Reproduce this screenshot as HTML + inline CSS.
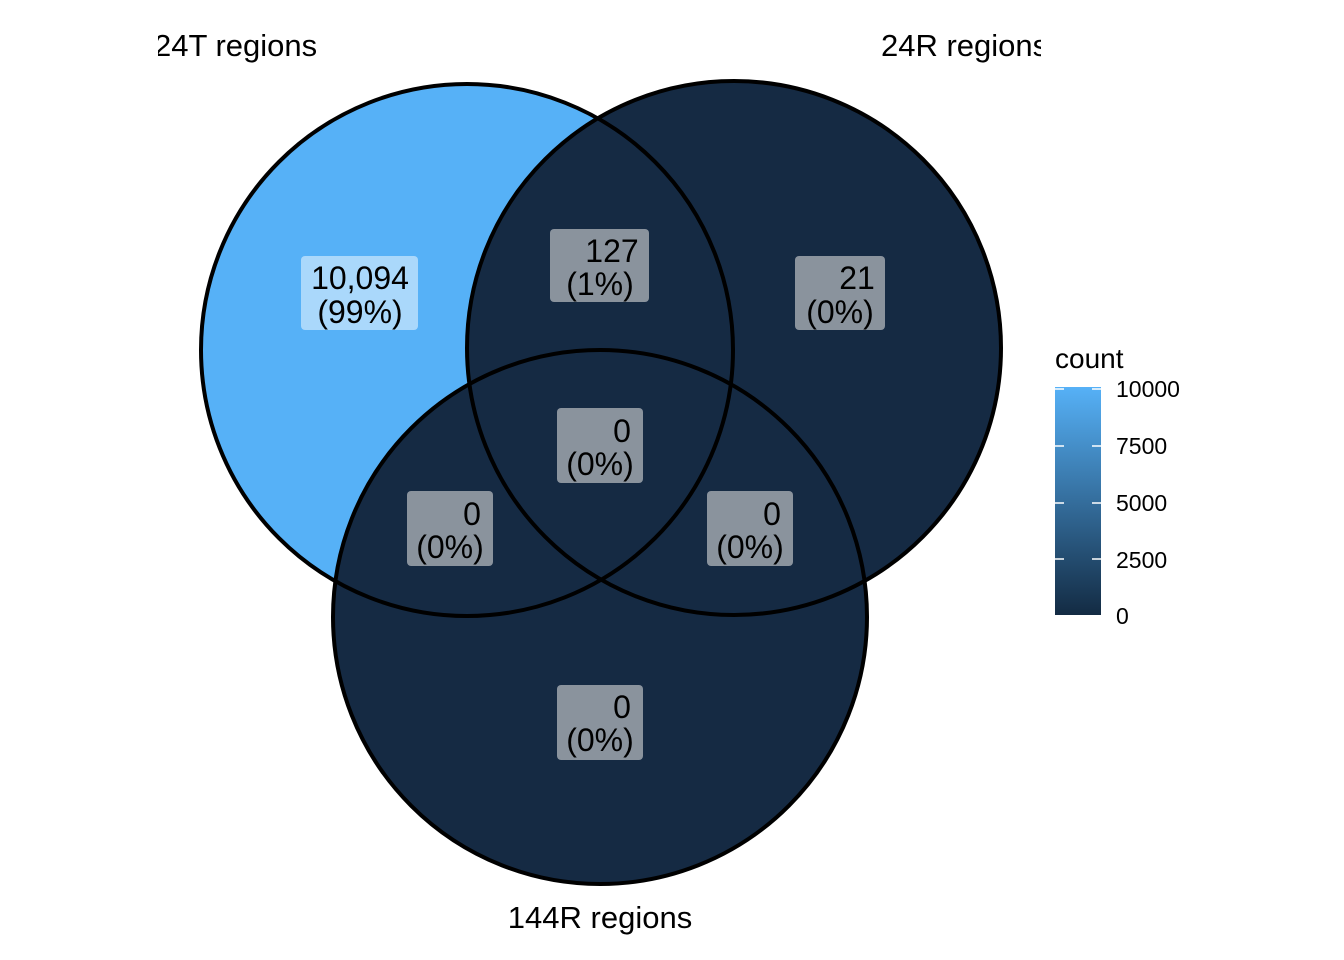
<!DOCTYPE html>
<html><head><meta charset="utf-8"><style>
html,body{margin:0;padding:0;background:#fff;}
svg{display:block;font-family:"Liberation Sans",Arial,sans-serif;}
</style></head><body>
<svg width="1344" height="960" viewBox="0 0 1344 960">
<defs>
<clipPath id="cl"><rect x="158" y="0" width="883" height="960"/></clipPath>
<linearGradient id="g" x1="0" y1="0" x2="0" y2="1">
<stop offset="0" stop-color="#56B1F7"/><stop offset="1" stop-color="#132B43"/>
</linearGradient>
</defs>
<rect width="1344" height="960" fill="#fff"/>
<circle cx="467" cy="350" r="266" fill="#56B1F7"/>
<circle cx="734" cy="348" r="267" fill="#152A43"/>
<circle cx="600" cy="617" r="267" fill="#152A43"/>
<g fill="none" stroke="#000" stroke-width="4">
<circle cx="467" cy="350" r="266"/>
<circle cx="734" cy="348" r="267"/>
<circle cx="600" cy="617" r="267"/>
</g>
<g font-size="31" clip-path="url(#cl)" fill="#000">
<text x="154" y="56">24T regions</text>
<text x="881" y="56">24R regions</text>
</g>
<text x="600" y="928" font-size="31" text-anchor="middle">144R regions</text>
<g>
<rect x="301" y="256" width="117" height="74" rx="4" fill="#AAD8FB"/>
<rect x="550" y="229" width="99" height="73" rx="4" fill="#8A939D"/>
<rect x="795" y="256" width="90" height="74" rx="4" fill="#8A939D"/>
<rect x="557" y="408" width="86" height="75" rx="4" fill="#8A939D"/>
<rect x="407" y="491" width="86" height="75" rx="4" fill="#8A939D"/>
<rect x="707" y="491" width="86" height="75" rx="4" fill="#8A939D"/>
<rect x="557" y="685" width="86" height="75" rx="4" fill="#8A939D"/>
</g>
<g font-size="32" fill="#000" text-anchor="middle">
<text x="360" y="289">10,094</text><text x="360" y="323">(99%)</text>
<text x="612" y="262">127</text><text x="600" y="295">(1%)</text>
<text x="857" y="289">21</text><text x="840" y="323">(0%)</text>
<text x="622" y="442">0</text><text x="600" y="475">(0%)</text>
<text x="472" y="525">0</text><text x="450" y="558">(0%)</text>
<text x="772" y="525">0</text><text x="750" y="558">(0%)</text>
<text x="622" y="718">0</text><text x="600" y="751">(0%)</text>
</g>
<text x="1055" y="368" font-size="28">count</text>
<rect x="1055" y="387" width="46" height="228" fill="url(#g)"/>
<g stroke="#fff" stroke-width="1.5">
<line x1="1055" y1="389" x2="1064" y2="389"/><line x1="1092" y1="389" x2="1101" y2="389"/>
<line x1="1055" y1="446" x2="1064" y2="446"/><line x1="1092" y1="446" x2="1101" y2="446"/>
<line x1="1055" y1="503" x2="1064" y2="503"/><line x1="1092" y1="503" x2="1101" y2="503"/>
<line x1="1055" y1="559" x2="1064" y2="559"/><line x1="1092" y1="559" x2="1101" y2="559"/>
</g>
<g font-size="23" fill="#000">
<text x="1116" y="397">10000</text>
<text x="1116" y="454">7500</text>
<text x="1116" y="511">5000</text>
<text x="1116" y="568">2500</text>
<text x="1116" y="624">0</text>
</g>
</svg>
</body></html>
